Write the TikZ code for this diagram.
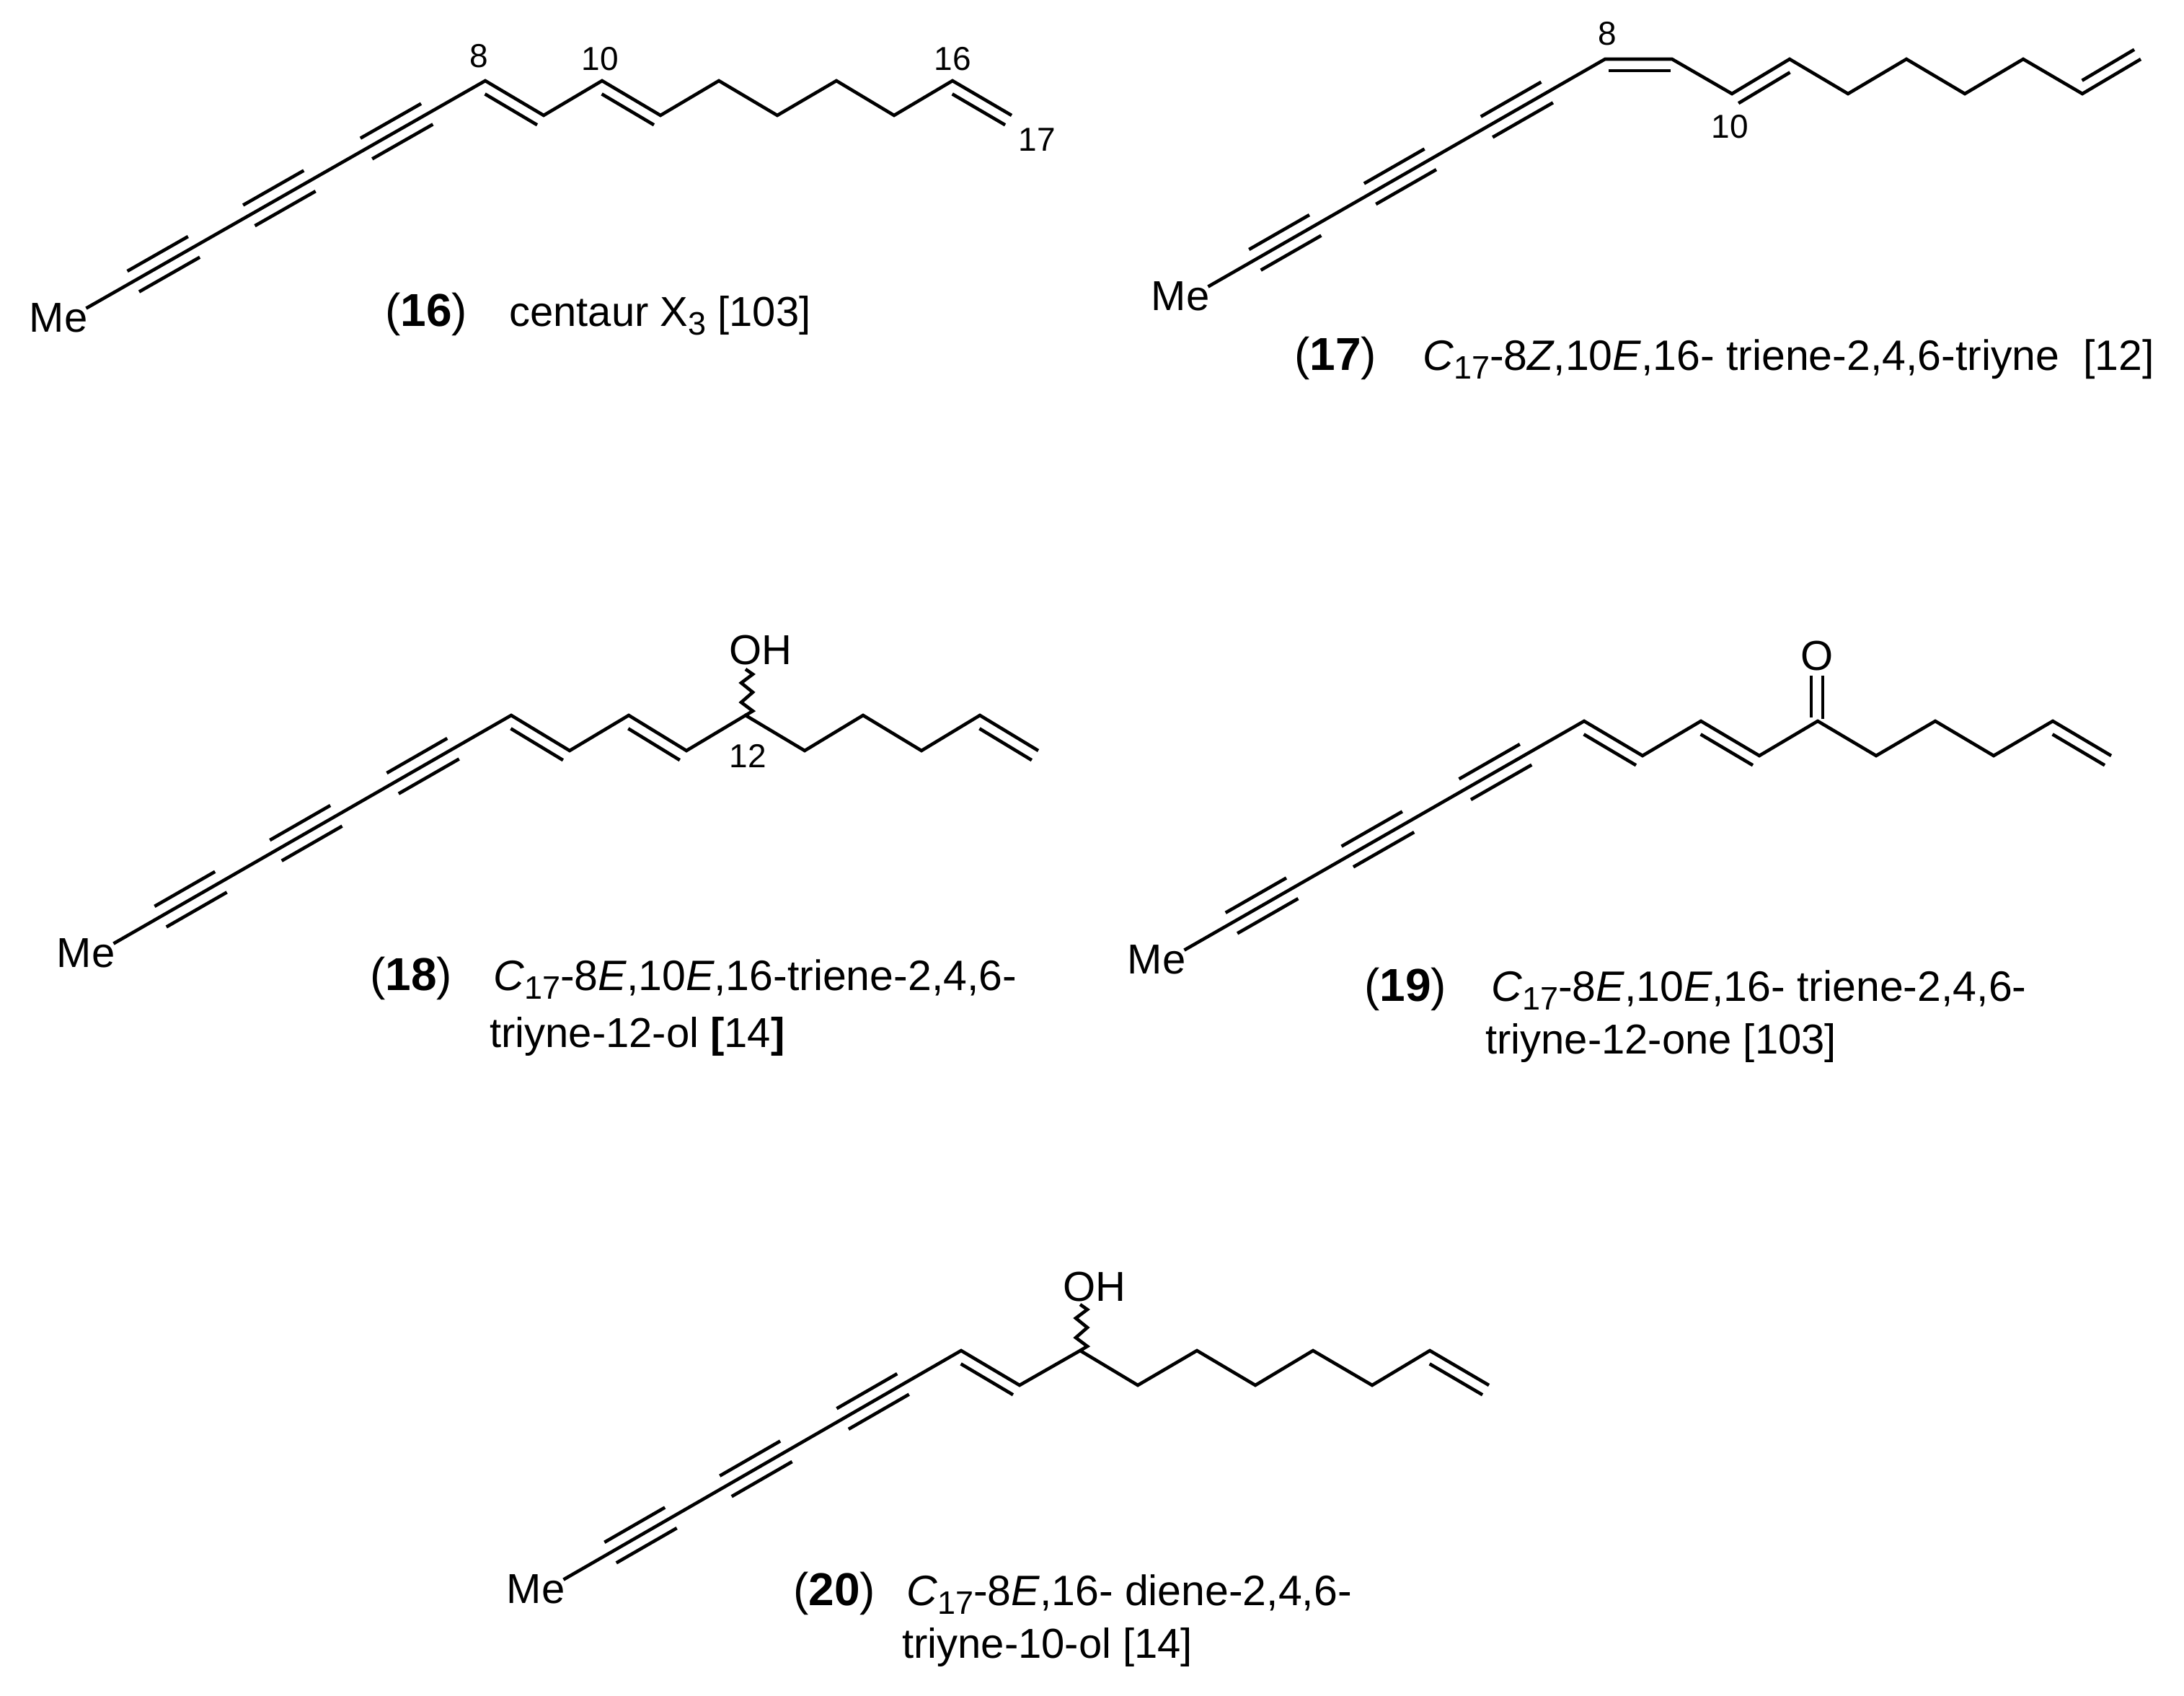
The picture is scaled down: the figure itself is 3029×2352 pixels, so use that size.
\documentclass[tikz,border=0pt]{standalone}
\usepackage{fontspec}
\setmainfont{Liberation Sans}
\usetikzlibrary{calc}
\newcommand{\lowidx}[1]{\raisebox{-12pt}{\fontsize{45}{45}\selectfont #1}}
\newcommand{\atoms}[2]{\foreach \x/\y [count=\i] in {#2} \coordinate (#1-\i) at (\x,\y);}
% second line of a double bond: from, to, cut at start, cut at end, side
\newcommand{\dbond}[5]{\draw[bond] ($(#1)!#3pt!(#2)!16pt!#5:(#2)$) -- ($(#2)!#4pt!(#1)!16pt!-#5:(#1)$);}
\newcommand{\triples}[2]{\foreach \t in {.194,.484,.778} {
		\draw[bond] ($(#1)!\t-0.076!(#2)!16.5pt!90:(#2)$) -- ($(#1)!\t+0.076!(#2)!16.5pt!90:(#2)$);
		\draw[bond] ($(#1)!\t-0.076!(#2)!16.5pt!-90:(#2)$) -- ($(#1)!\t+0.076!(#2)!16.5pt!-90:(#2)$);}}
\newcommand{\wavybond}[1]{\draw[bond] (#1) -- ++(10,-6) -- ++(-16,-12) -- ++(16,-14) -- ++(-16,-13) -- ++(16,-12) -- ++(-10,-7);}
\begin{document}
\begin{tikzpicture}
	[
		x                = 1pt,
		y                = -1pt,
		bond/.style      = {draw, line width=4.6pt, line join=miter},
		atom/.style      = {inner sep=0pt, font=\fontsize{58}{58}\selectfont},
		locant/.style    = {inner sep=0pt, font=\fontsize{46}{46}\selectfont},
		caption/.style   = {inner sep=0pt, anchor=base west, font=\fontsize{58}{58}\selectfont},
		formula/.style   = {inner sep=0pt, anchor=base west, font=\fontsize{59}{59}\selectfont},
		number/.style    = {inner sep=0pt, anchor=base west, font=\fontsize{64}{64}\selectfont}
	]
	\useasboundingbox (0,0) rectangle (3029,2352);

	% 16
	\atoms{c16}{673/112,754/160,835/112,916/160,997/112,1078/160,1160/112,1240/160,1321/112,1403/160}
	\node [atom] (me16) at (81,441) {Me};
	\coordinate (s16) at ([xshift=-2pt,yshift=-7pt]me16.north east);
	\draw [bond] (s16) -- (c16-1) -- (c16-2) -- (c16-3) -- (c16-4) -- (c16-5) -- (c16-6) -- (c16-7) -- (c16-8) -- (c16-9) -- (c16-10);
	\triples{s16}{c16-1}
	\dbond{c16-1}{c16-2}{9}{1}{-90}
	\dbond{c16-3}{c16-4}{9}{1}{-90}
	\dbond{c16-9}{c16-10}{9}{1}{-90}
	\node [locant] (l16a) at (664,78) {8};
	\node [locant] (l16b) at (832,82) {10};
	\node [locant] (l16c) at (1321,82) {16};
	\node [locant] (l16d) at (1438,194) {17};
	\node [number] (n16) at (534,452) {(\textbf{16})};
	\node [caption] (t16) at (706,452) {centaur X\lowidx{3} [103]};

	% 17
	\atoms{c17}{2226/82,2319/82,2402/130,2482/82,2563/130,2644/82,2725/130,2806/82,2888/130,2969/82}
	\node [atom] (me17) at (1637,411) {Me};
	\coordinate (s17) at ([xshift=-2pt,yshift=-7pt]me17.north east);
	\draw [bond] (s17) -- (c17-1) -- (c17-2) -- (c17-3) -- (c17-4) -- (c17-5) -- (c17-6) -- (c17-7) -- (c17-8) -- (c17-9) -- (c17-10);
	\triples{s17}{c17-1}
	\dbond{c17-1}{c17-2}{5}{2}{-90}
	\dbond{c17-3}{c17-4}{1}{9}{-90}
	\dbond{c17-9}{c17-10}{9}{1}{90}
	\node [locant] (l17a) at (2229,47) {8};
	\node [locant] (l17b) at (2399,176) {10};
	\node [number] (n17) at (1795,513) {(\textbf{17})};
	\node [formula] (t17) at (1973,513) {\textit{C}\lowidx{17}-8\textit{Z},10\textit{E},16- triene-2,4,6-triyne\ \ [12]};

	% 18
	\atoms{c18}{709/992,790/1041,872/992,952/1041,1034/992,1116/1041,1197/992,1278/1041,1359/992,1440/1041}
	\node [atom] (me18) at (119,1322) {Me};
	\coordinate (s18) at ([xshift=-2pt,yshift=-7pt]me18.north east);
	\draw [bond] (s18) -- (c18-1) -- (c18-2) -- (c18-3) -- (c18-4) -- (c18-5) -- (c18-6) -- (c18-7) -- (c18-8) -- (c18-9) -- (c18-10);
	\triples{s18}{c18-1}
	\dbond{c18-1}{c18-2}{9}{1}{-90}
	\dbond{c18-3}{c18-4}{9}{1}{-90}
	\dbond{c18-9}{c18-10}{9}{1}{-90}
	\wavybond{c18-5}
	\node [atom] (oh18) at (1055,902) {OH};
	\node [locant] (l18a) at (1037,1048) {12};
	\node [number] (n18) at (513,1373) {(\textbf{18})};
	\node [formula] (t18) at (684,1373) {\textit{C}\lowidx{17}-8\textit{E},10\textit{E},16-triene-2,4,6-};
	\node [caption] (u18) at (679,1452) {triyne-12-ol \textbf{[}14\textbf{]}};

	% 19
	\atoms{c19}{2197/1000,2278/1048,2359/1000,2440/1048,2521/1000,2602/1048,2684/1000,2765/1048,2847/1000,2928/1048}
	\node [atom] (me19) at (1604,1331) {Me};
	\coordinate (s19) at ([xshift=-2pt,yshift=-7pt]me19.north east);
	\draw [bond] (s19) -- (c19-1) -- (c19-2) -- (c19-3) -- (c19-4) -- (c19-5) -- (c19-6) -- (c19-7) -- (c19-8) -- (c19-9) -- (c19-10);
	\triples{s19}{c19-1}
	\dbond{c19-1}{c19-2}{9}{1}{-90}
	\dbond{c19-3}{c19-4}{9}{1}{-90}
	\dbond{c19-9}{c19-10}{9}{1}{-90}
	\node [atom] (o19) at (2520,910) {O};
	\draw [bond] ([xshift=-8pt]o19.south) ++(0,6) -- ++(0,58);
	\draw [bond] ([xshift=8pt]o19.south) ++(0,6) -- ++(0,60);
	\node [number] (n19) at (1892,1388) {(\textbf{19})};
	\node [formula] (t19) at (2068,1388) {\textit{C}\lowidx{17}-8\textit{E},10\textit{E},16- triene-2,4,6-};
	\node [caption] (u19) at (2060,1461) {triyne-12-one [103]};

	% 20
	\atoms{c20}{1333/1873,1414/1921,1498/1873,1578/1921,1660/1873,1741/1921,1821/1873,1903/1921,1983/1873,2065/1921}
	\node [atom] (me20) at (743,2204) {Me};
	\coordinate (s20) at ([xshift=-2pt,yshift=-7pt]me20.north east);
	\draw [bond] (s20) -- (c20-1) -- (c20-2) -- (c20-3) -- (c20-4) -- (c20-5) -- (c20-6) -- (c20-7) -- (c20-8) -- (c20-9) -- (c20-10);
	\triples{s20}{c20-1}
	\dbond{c20-1}{c20-2}{9}{1}{-90}
	\dbond{c20-9}{c20-10}{9}{1}{-90}
	\wavybond{c20-3}
	\node [atom] (oh20) at (1518,1785) {OH};
	\node [number] (n20) at (1100,2226) {(\textbf{20})};
	\node [formula] (t20) at (1257,2226) {\textit{C}\lowidx{17}-8\textit{E},16- diene-2,4,6-};
	\node [caption] (u20) at (1251,2299) {triyne-10-ol [14]};
\end{tikzpicture}
\end{document}
